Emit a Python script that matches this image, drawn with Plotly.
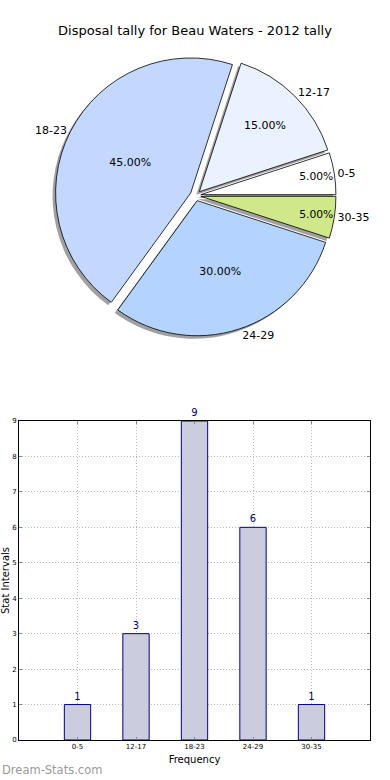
import plotly.graph_objects as go

categories = ["0-5", "12-17", "18-23", "24-29", "30-35"]
counts = [1, 3, 9, 6, 1]
slice_colors = ["#ffffff", "#eaf1ff", "#c4d8ff", "#b4d4ff", "#cfe98a"]
y_ticks = [0, 1, 2, 3, 4, 5, 6, 7, 8, 9]

W, H = 390, 780
FONT = "DejaVu Sans"
PULL = [0.04] * len(categories)

# first slice starts at 3 o'clock and runs counterclockwise (plotly's rotation
# marks where the first slice ends when direction is counterclockwise)
ROTATION = 90 - 360 * counts[0] / sum(counts)

def py(px):
    return 1 - px / H

def pxx(px):
    return px / W

pie_x = [pxx(55), pxx(336)]
pie_y = [py(336), py(55)]
sh = 3  # shadow offset in px

fig = go.Figure()

pie_common = dict(labels=categories, values=counts, sort=False,
                  direction="counterclockwise", rotation=ROTATION, pull=PULL)

# shadow pie
fig.add_trace(go.Pie(
    **pie_common,
    marker=dict(colors=["#8a8a8a"] * len(categories), line=dict(width=0)),
    opacity=0.8, textinfo="none", hoverinfo="skip", showlegend=False,
    domain=dict(x=[pie_x[0] - sh / W, pie_x[1] - sh / W], y=[pie_y[0] - sh / H, pie_y[1] - sh / H]),
))

# main pie with percentages inside
fig.add_trace(go.Pie(
    **pie_common,
    marker=dict(colors=slice_colors, line=dict(color="#000000", width=0.8)),
    texttemplate="%{percent:.2%}", textposition="inside",
    insidetextorientation="horizontal",
    textfont=dict(family=FONT, size=11, color="#000000"),
    hoverinfo="label+percent", showlegend=False,
    domain=dict(x=pie_x, y=pie_y),
))

# transparent pie carrying the outside labels
fig.add_trace(go.Pie(
    **pie_common,
    marker=dict(colors=["rgba(0,0,0,0)"] * len(categories), line=dict(width=0)),
    textinfo="label", textposition="outside",
    outsidetextfont=dict(family=FONT, size=11, color="#000000"),
    hoverinfo="skip", showlegend=False,
    domain=dict(x=pie_x, y=pie_y),
))

# bar chart
fig.add_trace(go.Bar(
    x=categories, y=counts, width=0.45,
    marker=dict(color="#ccccdf", line=dict(color="#000080", width=1)),
    text=counts, texttemplate="%{y}", textposition="outside",
    textfont=dict(family=FONT, size=10, color="#000080"),
    cliponaxis=False, showlegend=False,
    xaxis="x", yaxis="y",
))

axis_common = dict(
    showline=True, linecolor="#000000", linewidth=1, mirror="ticks",
    ticks="inside", ticklen=3, tickcolor="#888888",
    showgrid=True, gridcolor="#b8b8b8", griddash="1px,2px", gridwidth=1,
    zeroline=False, automargin=False,
    tickfont=dict(family=FONT, size=7, color="#000000"),
)

fig.update_layout(
    width=W, height=H,
    margin=dict(l=0, r=0, t=0, b=0),
    paper_bgcolor="#ffffff", plot_bgcolor="#ffffff",
    font=dict(family=FONT, color="#000000"),
    title=dict(text="Disposal tally for Beau Waters - 2012 tally",
               x=0.5, xanchor="center", y=py(30), yanchor="middle",
               font=dict(family=FONT, size=13, color="#000000")),
    xaxis=dict(domain=[pxx(19), pxx(370)], anchor="y", range=[-1, 5],
               title=dict(text="Frequency", font=dict(family=FONT, size=10), standoff=5),
               **axis_common),
    yaxis=dict(domain=[py(740), py(421)], anchor="x", range=[0, 9],
               tickvals=y_ticks,
               title=dict(text="Stat Intervals", font=dict(family=FONT, size=10), standoff=2),
               **axis_common),
    annotations=[dict(text="Dream-Stats.com", x=0, xref="paper", xanchor="left",
                      y=py(770), yref="paper", yanchor="middle", showarrow=False,
                      font=dict(family=FONT, size=11.5, color="#9a9a9a"))],
)

fig.write_html("out.html", config={"displayModeBar": False},
               post_script="document.body.style.margin='0';document.body.style.overflow='hidden';")
